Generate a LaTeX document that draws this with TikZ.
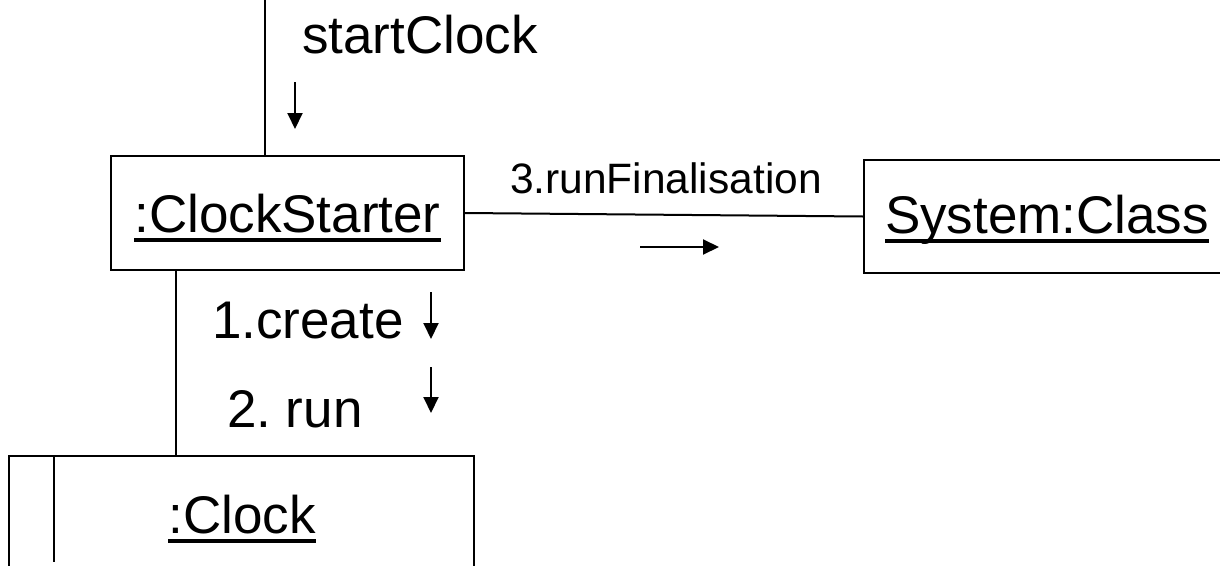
\documentclass[tikz,border=0pt]{standalone}
\usepackage{fontspec}
\setmainfont{Liberation Sans}
\usetikzlibrary{arrows.meta}
\frenchspacing

% underlined object name, rule at a fixed distance below the baseline
\newcommand\objname[1]{\setbox0\hbox{#1}\rlap{\rule[-9.5pt]{\wd0}{3.5pt}}\box0}

\begin{document}
\begin{tikzpicture}[x=1pt,y=-1pt,
  line width=2pt,
  objbox/.style={draw, rectangle, inner sep=0pt},
  biglabel/.style={inner sep=0pt, font=\fontsize{53}{60}\selectfont},
  smalllabel/.style={inner sep=0pt, font=\fontsize{42.5}{50}\selectfont},
  msg/.style={-{Triangle[length=16pt,width=15pt]}, line width=2pt},
]
\useasboundingbox (0,0) rectangle (1220,565);
\clip (0,0) rectangle (1220,565);

% object boxes
\node[objbox, minimum width=353pt, minimum height=114pt] (starter) at (287.5,213) {};
\node[objbox, minimum width=371pt, minimum height=113pt] (system) at (1049.5,216.5) {};
\node[objbox, minimum width=465pt, minimum height=144pt] (clock) at (241.5,528) {};

% object names
\node[biglabel, anchor=base] (starterName) at (287.5,232) {\objname{:ClockStarter}};
\node[biglabel, anchor=base west] (systemName) at (884,233) {\objname{System:Class}};
\node[biglabel, anchor=base] (clockName) at (242,533) {\objname{:Clock}};

% inner bar of the clock box
\coordinate (clockbar) at (54,562);
\draw (clock.north -| clockbar) -- (clockbar);

% links
\coordinate (entry) at (265,0);
\draw (entry) -- (starter.north -| entry);
\coordinate (link) at (176,0);
\draw (starter.south -| link) -- (clock.north -| link);
\draw (starter.east) -- (system.west);

% messages
\node[biglabel, anchor=base west] (startMsg) at (301,53) {startClock};
\coordinate (a0) at (295,82);  \coordinate (a1) at (295,129);
\draw[msg] (a0) -- (a1);

\node[biglabel, anchor=base west] (createMsg) at (211,338) {1.create};
\coordinate (b0) at (431,292); \coordinate (b1) at (431,339);
\draw[msg] (b0) -- (b1);

\node[biglabel, anchor=base west] (runMsg) at (226,427) {2. run};
\coordinate (c0) at (431,367); \coordinate (c1) at (431,413);
\draw[msg] (c0) -- (c1);

\node[smalllabel, anchor=base west] (finalMsg) at (509,193) {3.runFinalisation};
\coordinate (d0) at (640,247); \coordinate (d1) at (719,247);
\draw[msg] (d0) -- (d1);
\end{tikzpicture}
\end{document}
